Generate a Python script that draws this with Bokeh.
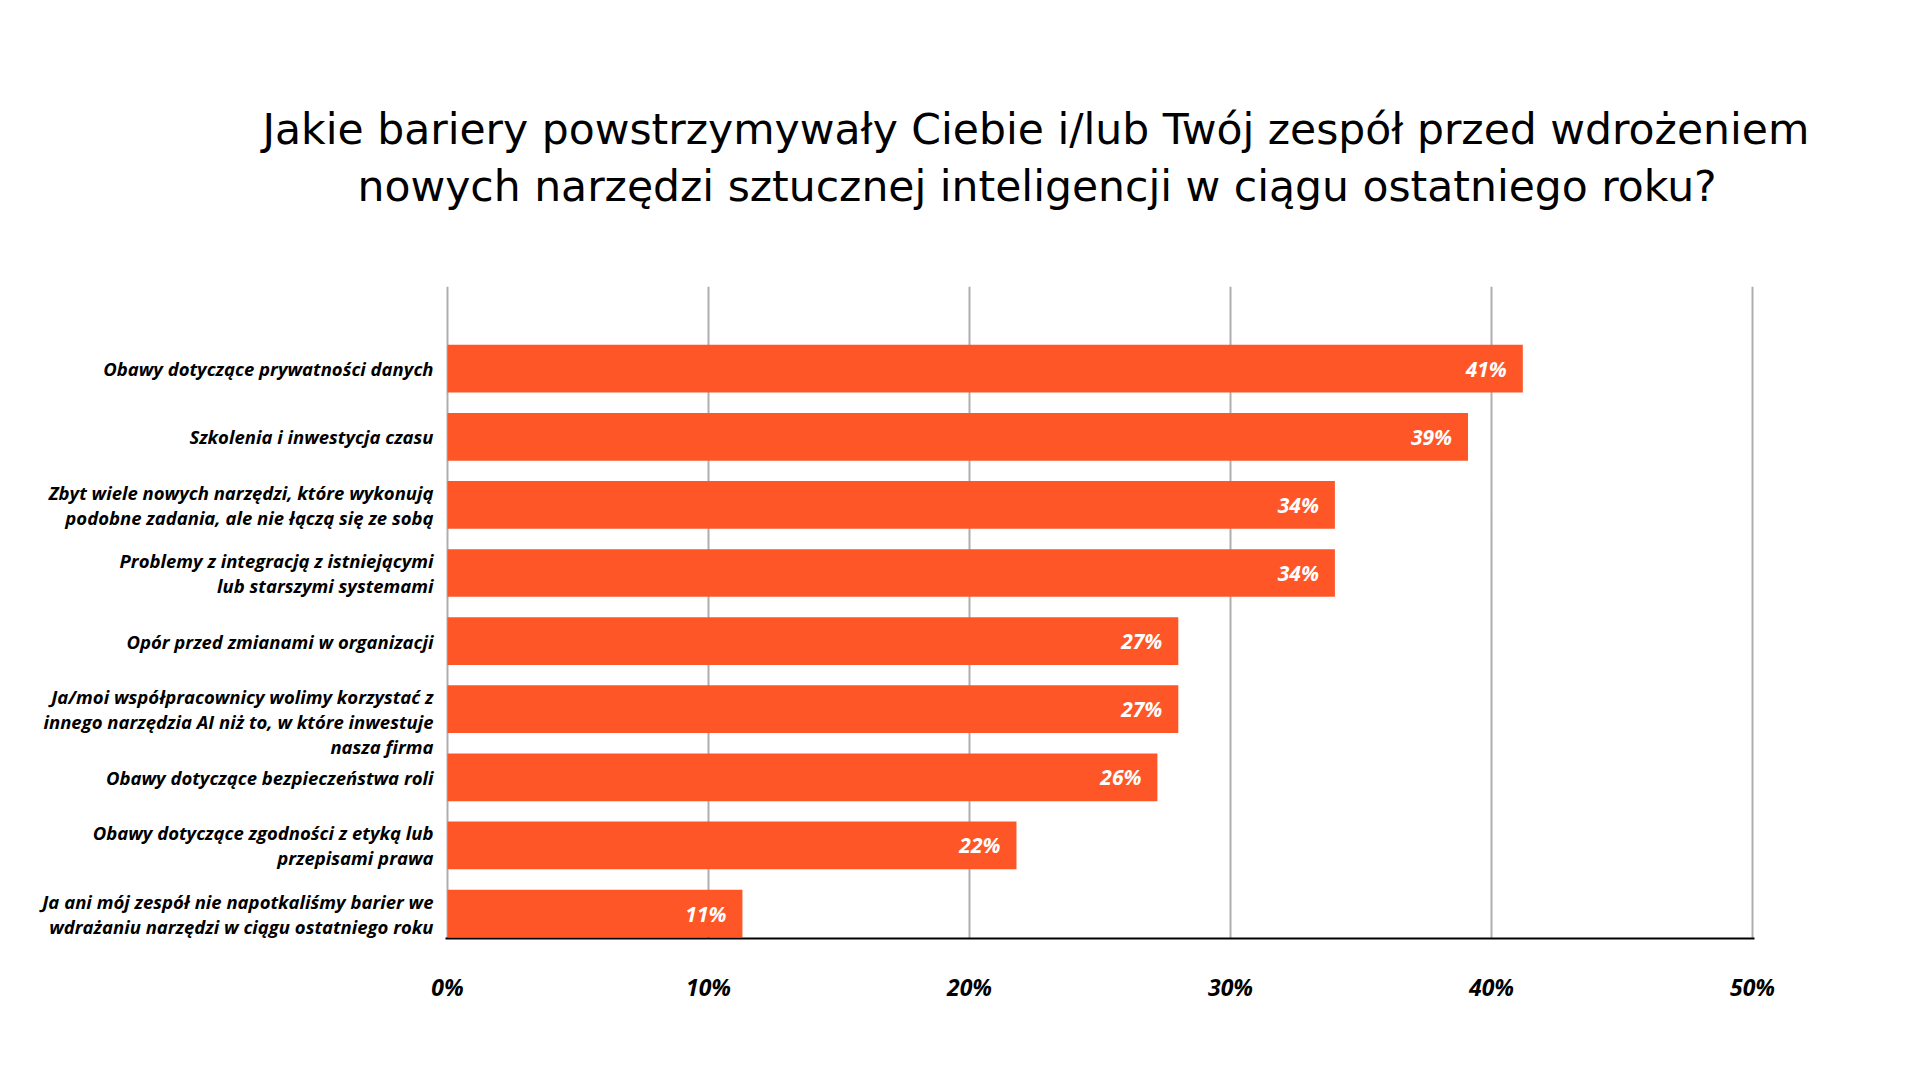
from bokeh.plotting import figure
from bokeh.models import FixedTicker, ColumnDataSource, Range1d, LinearAxis, Title
from bokeh.embed import file_html
from bokeh.resources import INLINE
from bokeh.core.properties import value

# ---------------- data ----------------
categories = [
    "Obawy dotyczące prywatności danych",
    "Szkolenia i inwestycja czasu",
    "Zbyt wiele nowych narzędzi, które wykonują\npodobne zadania, ale nie łączą się ze sobą",
    "Problemy z integracją z istniejącymi\nlub starszymi systemami",
    "Opór przed zmianami w organizacji",
    " \nJa/moi współpracownicy wolimy korzystać z\ninnego narzędzia AI niż to, w które inwestuje\nnasza firma",
    "Obawy dotyczące bezpieczeństwa roli",
    "Obawy dotyczące zgodności z etyką lub\nprzepisami prawa",
    "Ja ani mój zespół nie napotkaliśmy barier we\nwdrażaniu narzędzi w ciągu ostatniego roku",
]
values = [41.2, 39.1, 34.0, 34.0, 28.0, 28.0, 27.2, 21.8, 11.3]
value_labels = ["41%", "39%", "34%", "34%", "27%", "27%", "26%", "22%", "11%"]
tick_values = [0, 10, 20, 30, 40, 50]
tick_labels = ["0%", "10%", "20%", "30%", "40%", "50%"]
title_lines = [
    "Jakie bariery powstrzymywały Ciebie i/lub Twój zespół przed wdrożeniem",
    "nowych narzędzi sztucznej inteligencji w ciągu ostatniego roku?",
]

# ---------------- layout ----------------
W, H = 1920, 1080
FL, FR, FT, FB = 445, 1754, 286, 938          # frame edges in px
BAND = 68.1                                   # px per category
n = len(values)
ypos = [n - i for i in range(n)]              # top category highest
y_lo = 1 - (FB - 913) / BAND
y_hi = y_lo + (FB - FT) / BAND
x_lo = -2 / 261 * 10
x_hi = 50 + 2 / 261 * 10

ORANGE = "#FF5627"

p = figure(width=W, height=H, output_backend="svg", toolbar_location=None,
           x_range=Range1d(x_lo, x_hi), y_range=Range1d(y_lo, y_hi),
           y_axis_location=None,
           min_border_left=FL, min_border_right=W - FR,
           min_border_top=FT, min_border_bottom=H - FB)
p.outline_line_color = None
p.background_fill_color = "white"
p.border_fill_color = "white"

src = ColumnDataSource(dict(y=ypos, v=values, lab=value_labels))
p.hbar(y="y", left=0, right="v", height=0.70, source=src,
       fill_color=ORANGE, line_color=None)

p.text(x="v", y="y", text="lab", source=src, x_offset=-16,
       text_align="right", text_baseline="middle", text_color="white",
       text_font=value("Open Sans"), text_font_style="bold italic",
       text_font_size="21px")

# grid
p.ygrid.visible = False
p.xgrid.ticker = FixedTicker(ticks=tick_values)
p.xgrid.grid_line_color = "#AEAEAE"
p.xgrid.grid_line_width = 2

# x axis
ax = p.xaxis[0]
ax.ticker = FixedTicker(ticks=tick_values)
ax.major_label_overrides = {t: l for t, l in zip(tick_values, tick_labels)}
ax.axis_line_color = "black"
ax.axis_line_width = 2
ax.major_tick_line_color = None
ax.minor_tick_line_color = None
ax.major_tick_in = 0
ax.major_tick_out = 0
ax.major_label_standoff = 32
ax.major_label_text_font = "Open Sans"
ax.major_label_text_font_style = "bold italic"
ax.major_label_text_font_size = "23px"
ax.major_label_text_color = "black"

# category axis (left)
yax = LinearAxis(ticker=FixedTicker(ticks=ypos),
                 major_label_overrides={y: c for y, c in zip(ypos, categories)})
yax.axis_line_color = None
yax.major_tick_line_color = None
yax.minor_tick_line_color = None
yax.major_tick_in = 0
yax.major_tick_out = 0
yax.major_label_standoff = 12
yax.major_label_text_font = "Open Sans"
yax.major_label_text_font_style = "bold italic"
yax.major_label_text_font_size = "18.5px"
yax.major_label_text_color = "black"
yax.major_label_text_line_height = 1.0
p.add_layout(yax, "left")

# title: spacer next to the plot, then line 2, then line 1 (stacked outward)
p.add_layout(Title(text=" ", text_font_size="10px", standoff=60), "above")
for txt, off in [(title_lines[1], -88), (title_lines[0], -183)]:
    t = Title(text=txt, align="left", offset=off, text_font="DejaVu Sans",
              text_font_style="normal", text_font_size="42.5px", text_color="black",
              standoff=6)
    p.add_layout(t, "above")

open("out.html", "w").write(file_html(p, INLINE))
